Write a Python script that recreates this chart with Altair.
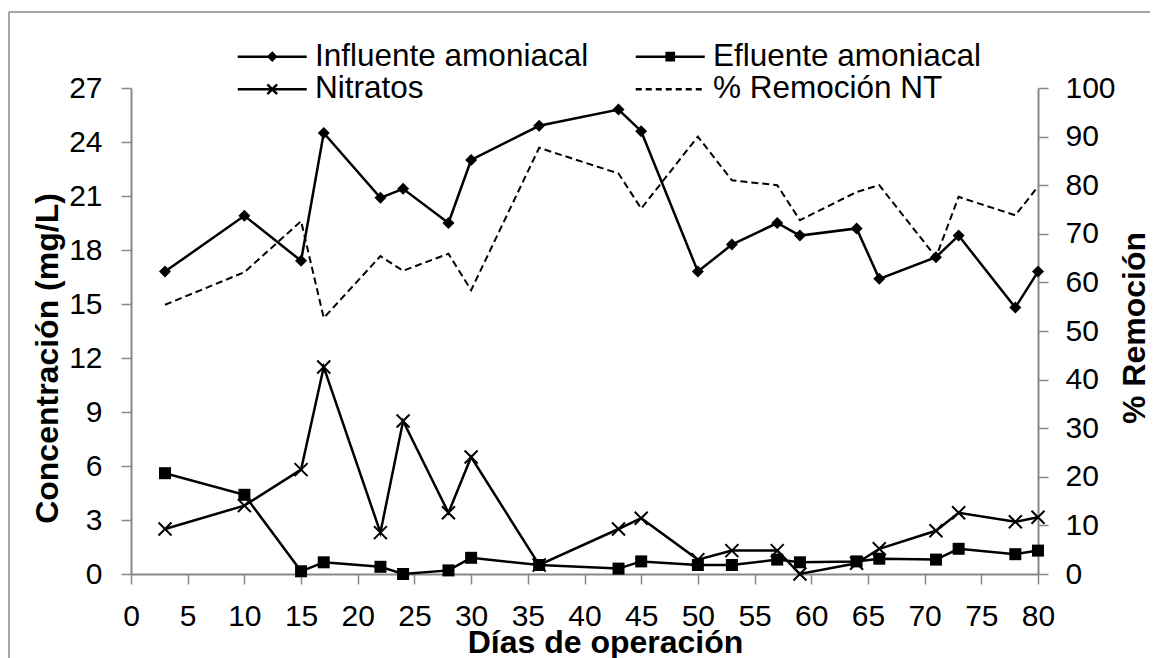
import altair as alt
import pandas as pd

# ---- data ----
days = [3, 10, 15, 17, 22, 24, 28, 30, 36, 43, 45, 50, 53, 57, 59, 64, 66, 71, 73, 78, 80]
influente = [16.8, 19.9, 17.4, 24.5, 20.9, 21.4, 19.5, 23.0, 24.9, 25.8, 24.6, 16.8,
             18.3, 19.5, 18.8, 19.2, 16.4, 17.6, 18.8, 14.8, 16.8]
efluente = [5.6, 4.4, 0.15, 0.65, 0.4, 0.0, 0.2, 0.9, 0.5, 0.3, 0.7, 0.5,
            0.5, 0.8, 0.65, 0.7, 0.85, 0.8, 1.4, 1.1, 1.3]
nitratos = [2.5, 3.8, 5.8, 11.5, 2.3, 8.5, 3.4, 6.5, 0.5, 2.5, 3.1, 0.8,
            1.3, 1.3, 0.0, 0.6, 1.4, 2.4, 3.4, 2.9, 3.15]
remocion = [55.4, 62.1, 72.6, 52.7, 65.4, 62.4, 65.9, 58.4, 87.7, 82.4, 75.2, 90.0,
            81.0, 80.0, 72.8, 78.6, 80.0, 65.2, 77.6, 73.8, 79.7]

# legend order (legend fills column by column)
series_names = ["Influente amoniacal", "Nitratos", "Efluente amoniacal", "% Remoción NT"]
x_ticks = list(range(0, 81, 5))
yl_ticks = list(range(0, 28, 3))
yr_ticks = list(range(0, 101, 10))

df = pd.DataFrame({"dia": days, "influente": influente, "efluente": efluente,
                   "nitratos": nitratos, "remocion": remocion})

FONT = "Liberation Sans"
GRAY = "#888888"

x_enc = alt.X("dia:Q",
              scale=alt.Scale(domain=[0, 80], nice=False, zero=False),
              axis=alt.Axis(values=x_ticks, title="Días de operación", grid=False,
                            tickSize=10, tickWidth=1.5, tickColor=GRAY,
                            domainColor=GRAY, domainWidth=2,
                            labelFontSize=30, labelColor="black", labelPadding=17,
                            labelFlush=False, labelOverlap=False,
                            titleFontSize=32, titleFontWeight="bold", titleColor="black",
                            titleX=474, titleY=78, titleAlign="center",
                            titleBaseline="alphabetic"))

yl_scale = alt.Scale(domain=[0, 27], nice=False, zero=False)
yl_axis = alt.Axis(values=yl_ticks, title="Concentración (mg/L)", grid=False,
                   tickSize=10, tickWidth=1.5, tickColor=GRAY,
                   domainColor=GRAY, domainWidth=2,
                   labelFontSize=30, labelColor="black", labelPadding=19,
                   labelFlush=False, labelOverlap=False,
                   titleFontSize=32, titleFontWeight="bold", titleColor="black",
                   titleAngle=270, titleX=-74, titleY=270, titleAlign="center",
                   titleBaseline="alphabetic")

yr_axis = alt.Axis(orient="right", values=yr_ticks, title="% Remoción", grid=False,
                   tickSize=10, tickWidth=1.5, tickColor=GRAY,
                   domainColor=GRAY, domainWidth=2,
                   labelFontSize=30, labelColor="black", labelPadding=17,
                   labelFlush=False, labelOverlap=False,
                   titleFontSize=32, titleFontWeight="bold", titleColor="black",
                   titleAngle=270, titleX=106, titleY=239.5, titleAlign="center",
                   titleBaseline="alphabetic")

base = alt.Chart(df)


def yl(field):
    return alt.Y(f"{field}:Q", scale=yl_scale, axis=yl_axis)


def conc_line(field):
    return base.mark_line(color="black", strokeWidth=2.5).encode(x=x_enc, y=yl(field))


infl_pts = base.mark_point(shape="diamond", filled=True, size=144, color="black",
                           strokeWidth=0, opacity=1).encode(x=x_enc, y=yl("influente"))
efl_pts = base.mark_point(shape="square", filled=True, size=144, color="black",
                          strokeWidth=0, opacity=1).encode(x=x_enc, y=yl("efluente"))
nit_pts = base.mark_point(shape="M-1,-1L1,1M-1,1L1,-1", filled=False, size=169,
                          strokeWidth=2, color="black", opacity=1).encode(
    x=x_enc, y=yl("nitratos"))

# legend symbols: a line with the marker drawn on it (stroked custom symbol paths;
# nested outlines make the diamond and the square look solid)
legend_paths = [
    "M-5.75,0H5.75M0,-0.6L0.6,0L0,0.6L-0.6,0ZM0,-0.3L0.3,0L0,0.3L-0.3,0Z",
    "M-5.75,0H5.75M-0.8,-0.8L0.8,0.8M-0.8,0.8L0.8,-0.8",
    "M-5.75,0H5.75M-0.6,-0.6H0.6V0.6H-0.6ZM-0.3,-0.3H0.3V0.3H-0.3Z",
    "M-5.75,0H5.75",
]
legend_dashes = [[1, 0], [1, 0], [1, 0], [6, 4]]

leg = alt.Legend(orient="none", legendX=125.5, legendY=-47.5, columns=2, title=None,
                 labelFont=FONT, labelFontSize=31.5, labelColor="black", labelLimit=500,
                 labelOffset=27, symbolSize=144, symbolStrokeWidth=2.5,
                 symbolStrokeColor="black", symbolFillColor="black",
                 columnPadding=42, rowPadding=0, padding=0)

legend_layer = base.mark_point(filled=False, color="black", strokeWidth=2.5,
                               size=144, opacity=1).encode(
    x=x_enc, y=yl("influente"),
    shape=alt.Shape("serie:N", scale=alt.Scale(domain=series_names, range=legend_paths),
                    legend=leg),
    strokeDash=alt.StrokeDash("serie:N",
                              scale=alt.Scale(domain=series_names, range=legend_dashes),
                              legend=leg),
).transform_calculate(serie="'x'").transform_filter("false")

frame_df = pd.DataFrame({"k": [0]})
frame_top = alt.Chart(frame_df).mark_rule(color=GRAY, strokeWidth=1.5).encode(
    x=alt.value(-122), x2=alt.value(1030), y=alt.value(-76))
frame_left = alt.Chart(frame_df).mark_rule(color=GRAY, strokeWidth=1.5).encode(
    x=alt.value(-122), y=alt.value(-76), y2=alt.value(600))

left = alt.layer(frame_top, frame_left, legend_layer,
                 conc_line("influente"), infl_pts,
                 conc_line("efluente"), efl_pts,
                 conc_line("nitratos"), nit_pts)

right = base.mark_line(color="black", strokeWidth=2, strokeDash=[7, 4]).encode(
    x=x_enc,
    y=alt.Y("remocion:Q", scale=alt.Scale(domain=[0, 100], nice=False, zero=False),
            axis=yr_axis))

chart = alt.layer(left, right).resolve_scale(y="independent").properties(
    width=907, height=486,
    padding={"left": 123, "top": 80, "right": 112, "bottom": 84},
    autosize=alt.AutoSizeParams(type="none"),
).configure(font=FONT).configure_view(stroke=None)

chart.save("out.html", embed_options={"renderer": "svg", "actions": False})
